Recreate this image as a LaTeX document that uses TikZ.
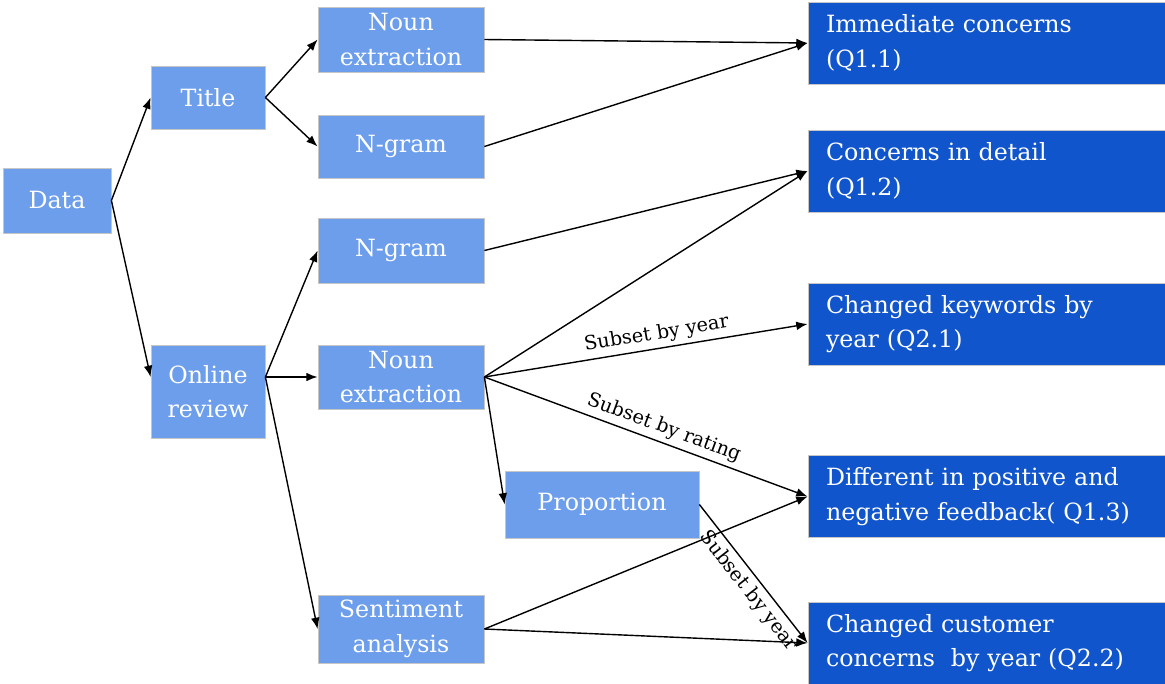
\documentclass[tikz,border=0pt]{standalone}
\usepackage{fontspec}
\setmainfont{DejaVu Serif}
\usetikzlibrary{arrows.meta}

\definecolor{lightblue}{HTML}{6D9EEB}
\definecolor{darkblue}{HTML}{1155CC}

\begin{document}
\begin{tikzpicture}[x = 0.75pt, y = -0.75pt,
        lightbox/.style = {fill=lightblue, draw=gray!45, line width=0.6pt, text=white,
            align=center, inner sep=0pt, font=\fontsize{17.8}{26}\selectfont},
        midbox/.style = {lightbox, minimum width=124.5pt},
        darkbox/.style = {fill=darkblue, draw=gray!45, line width=0.6pt, text=white,
            align=left, text width=240.75pt, inner xsep=13.5pt, inner ysep=0pt,
            minimum height=61.5pt, font=\fontsize{17.8}{26}\selectfont},
        arr/.style = {-{Latex[length=8.5pt, width=6.5pt]}, line width=1.05pt},
        subset/.style = {sloped, font=\fontsize{14.5}{17}\selectfont}]
        \useasboundingbox (0,0) rectangle (1165,683);

        % left part
        \node[lightbox, minimum width=81pt, minimum height=48.75pt] (data) at (57,200.5) {Data};
        \node[lightbox, minimum width=85.5pt, minimum height=47.25pt] (title) at (208,97.5) {Title};
        \node[lightbox, minimum width=85.5pt, minimum height=69.75pt] (review) at (208,391.5) {Online\\review};

        \node[midbox, minimum height=48.75pt] (nounA) at (401,39.5) {Noun\\extraction};
        \node[midbox, minimum height=47.25pt] (gramA) at (401,146.5) {N-gram};
        \node[midbox, minimum height=48.75pt] (gramB) at (401,250.5) {N-gram};
        \node[midbox, minimum height=48pt] (nounB) at (401,377) {Noun\\extraction};
        \node[midbox, minimum height=51pt] (senti) at (401,629) {Sentiment\\analysis};
        \node[lightbox, minimum width=145.5pt, minimum height=50.25pt] (prop) at (602,504.5) {Proportion};

        % questions
        \node[darkbox] (q11) at (986.5,43) {Immediate concerns\\(Q1.1)};
        \node[darkbox] (q12) at (986.5,171) {Concerns in detail\\(Q1.2)};
        \node[darkbox] (q21) at (986.5,324) {Changed keywords by\\year (Q2.1)};
        \node[darkbox] (q13) at (986.5,496.5) {Different in positive and\\negative feedback( Q1.3)};
        \node[darkbox] (q22) at (986.5,643) {Changed customer\\concerns\ \ by year (Q2.2)};

        \draw[arr] (data.east) -- (title.west);
        \draw[arr] (data.east) -- (review.west |- nounB);
        \draw[arr] (title.east) -- (nounA.west);
        \draw[arr] (title.east) -- (gramA.west);
        \foreach \n in {gramB, nounB, senti}
            \draw[arr] (review.east |- nounB) -- (\n.west);

        \draw[arr] (nounA.east) -- (q11.west);
        \draw[arr] (gramA.east) -- (q11.west);
        \draw[arr] (gramB.east) -- (q12.west);
        \draw[arr] (nounB.east) -- (q12.west);
        \draw[arr] (nounB.east) -- (q21.west) node[subset, above, pos=.54] {Subset by year};
        \draw[arr] (nounB.east) -- (q13.west) node[subset, above, pos=.54] {Subset by rating};
        \draw[arr] (nounB.east) -- (prop.west);
        \draw[arr] (prop.east) -- (q22.west) node[subset, below, pos=.56] {Subset by year};
        \draw[arr] (senti.east) -- (q13.west);
        \draw[arr] (senti.east) -- (q22.west);
    \end{tikzpicture}
\end{document}
